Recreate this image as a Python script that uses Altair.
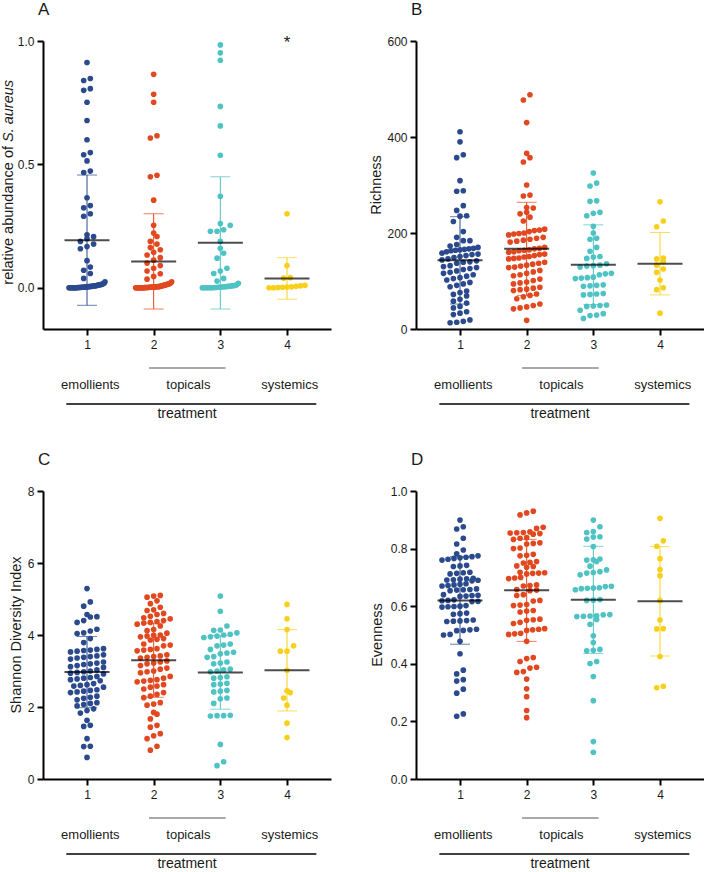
import altair as alt
import numpy as np
import pandas as pd

FONT = "Liberation Sans"
GROUPS = [1, 2, 3, 4]
GROUP_COLORS = ["#2b4a8e", "#e2481f", "#4fc2c3", "#f8d01c"]
CATEGORY_NAMES = ["emollients", "topicals", "systemics"]
CATEGORY_X = [1.05, 2.52, 4.04]

# ---------------- A: relative abundance of S. aureus ----------------
A_1 = [0.913, 0.848, 0.840, 0.807, 0.800, 0.752, 0.678, 0.600, 0.548, 0.539,
       0.514, 0.473, 0.467, 0.365, 0.333, 0.324, 0.300, 0.290, 0.215, 0.207,
       0.199, 0.188, 0.177, 0.167, 0.158, 0.110, 0.084, 0.071, 0.058, 0.038,
       0.024, 0.018, 0.016, 0.014, 0.013, 0.012, 0.011, 0.010, 0.009, 0.008,
       0.008, 0.007, 0.006, 0.006, 0.005, 0.005, 0.004, 0.004, 0.003, 0.003,
       0.002, 0.002, 0.002, 0.001, 0.001, 0.001, 0.0, 0.0, 0.0, 0.0,
       0.0, 0.0, 0.0, 0.0]
A_2 = [0.865, 0.784, 0.752, 0.616, 0.607, 0.456, 0.450, 0.355, 0.253, 0.222,
       0.208, 0.188, 0.177, 0.163, 0.154, 0.144, 0.133, 0.122, 0.112, 0.100,
       0.090, 0.079, 0.068, 0.057, 0.046, 0.035, 0.024, 0.020, 0.018, 0.016,
       0.015, 0.014, 0.013, 0.012, 0.011, 0.010, 0.009, 0.008, 0.007, 0.006,
       0.005, 0.005, 0.005, 0.004, 0.004, 0.004, 0.003, 0.003, 0.003, 0.002,
       0.002, 0.002, 0.002, 0.001, 0.001, 0.001, 0.001, 0.001, 0.0, 0.0,
       0.0, 0.0, 0.0, 0.0, 0.0, 0.0, 0.0, 0.0]
A_3 = [0.984, 0.952, 0.922, 0.735, 0.656, 0.537, 0.371, 0.260, 0.253, 0.235,
       0.229, 0.229, 0.188, 0.160, 0.140, 0.120, 0.079, 0.068, 0.058, 0.038,
       0.027, 0.018, 0.011, 0.009, 0.008, 0.007, 0.006, 0.005, 0.004, 0.003,
       0.003, 0.002, 0.001, 0.001, 0.0, 0.0, 0.0, 0.0, 0.0, 0.0]
A_4 = [0.300, 0.090, 0.041, 0.039, 0.010, 0.008, 0.006, 0.004, 0.003, 0.002,
       0.001, 0.0, 0.0]
A_MEAN = [0.193, 0.107, 0.182, 0.038]
A_SD = [0.264, 0.193, 0.268, 0.084]

# ---------------- B: Richness ----------------
B_1 = [411, 390, 363, 357, 309, 288, 287, 257, 247, 236, 235, 224, 203, 191,
       184, 184, 176, 173, 170, 168, 167, 166, 165, 164, 163, 161, 158, 156,
       155, 153, 151, 149, 146, 144, 142, 140, 139, 137, 132, 130, 128, 126,
       124, 121, 118, 116, 113, 110, 107, 105, 102, 97, 94, 91, 88, 79, 76,
       72, 69, 62, 58, 54, 47, 44, 36, 33, 30, 19, 16, 14, 13]
B_2 = [488, 477, 430, 366, 357, 348, 300, 279, 277, 253, 252, 243, 240, 233,
       225, 208, 206, 205, 203, 200, 199, 198, 196, 191, 189, 187, 185, 183,
       181, 170, 168, 167, 165, 164, 163, 161, 160, 156, 155, 153, 151, 150,
       148, 147, 146, 139, 137, 135, 133, 131, 129, 128, 122, 119, 116, 113,
       111, 104, 101, 98, 96, 94, 87, 85, 83, 82, 80, 73, 70, 67, 63, 52, 49,
       46, 44, 42, 18]
B_3 = [325, 304, 298, 267, 266, 243, 241, 236, 214, 200, 189, 187, 170, 162,
       151, 150, 147, 136, 133, 132, 131, 129, 116, 115, 113, 108, 107, 106,
       105, 92, 91, 90, 89, 74, 73, 72, 71, 50, 49, 48, 47, 39, 32, 29, 28, 22]
B_4 = [265, 225, 213, 148, 146, 140, 133, 125, 118, 102, 86, 82, 33]
B_MEAN = [143, 167, 134, 136]
B_SD = [91, 97, 83, 65]

# ---------------- C: Shannon Diversity Index ----------------
C_1 = [5.29, 4.92, 4.80, 4.57, 4.51, 4.50, 4.40, 4.35, 4.16, 4.11, 4.06, 4.04,
       3.90, 3.79, 3.62, 3.60, 3.58, 3.57, 3.55, 3.53, 3.45, 3.42, 3.40, 3.38,
       3.36, 3.33, 3.25, 3.22, 3.20, 3.18, 3.15, 3.12, 3.10, 3.03, 3.00, 2.98,
       2.96, 2.94, 2.92, 2.85, 2.82, 2.80, 2.78, 2.76, 2.73, 2.65, 2.62, 2.60,
       2.58, 2.55, 2.48, 2.46, 2.44, 2.42, 2.40, 2.30, 2.27, 2.24, 2.20, 2.12,
       2.10, 2.07, 2.03, 1.95, 1.90, 1.83, 1.63, 1.49, 1.46, 1.12, 0.91, 0.90,
       0.60]
C_2 = [5.10, 5.08, 5.05, 4.95, 4.87, 4.77, 4.70, 4.68, 4.60, 4.57, 4.52, 4.48,
       4.45, 4.40, 4.37, 4.35, 4.33, 4.30, 4.25, 4.15, 4.12, 4.05, 4.00, 3.99,
       3.97, 3.95, 3.90, 3.88, 3.86, 3.75, 3.72, 3.70, 3.62, 3.60, 3.58, 3.56,
       3.45, 3.42, 3.40, 3.38, 3.36, 3.28, 3.25, 3.22, 3.20, 3.15, 3.08, 3.05,
       3.00, 2.98, 2.95, 2.85, 2.80, 2.76, 2.74, 2.72, 2.70, 2.62, 2.58, 2.55,
       2.50, 2.40, 2.35, 2.30, 2.26, 2.12, 2.08, 2.05, 1.85, 1.80, 1.67, 1.49,
       1.44, 1.26, 1.20, 1.12, 0.91, 0.80]
C_3 = [5.08, 4.66, 4.25, 4.14, 4.13, 4.06, 4.02, 4.00, 3.97, 3.95, 3.93, 3.75,
       3.72, 3.70, 3.60, 3.52, 3.50, 3.48, 3.40, 3.38, 3.25, 3.22, 3.20, 3.05,
       3.03, 3.00, 2.98, 2.84, 2.82, 2.80, 2.66, 2.64, 2.62, 2.46, 2.44, 2.42,
       2.25, 2.23, 2.10, 1.77, 1.76, 1.76, 1.75, 0.96, 0.48, 0.37]
C_4 = [4.85, 4.45, 4.15, 3.70, 3.55, 3.55, 3.02, 2.45, 2.40, 2.25, 2.05, 1.55,
       1.15]
C_MEAN = [2.97, 3.30, 2.96, 3.02]
C_SD = [0.99, 1.03, 1.02, 1.13]

# ---------------- D: Evenness ----------------
D_1 = [0.899, 0.876, 0.868, 0.836, 0.816, 0.795, 0.782, 0.775, 0.772, 0.770,
       0.768, 0.766, 0.763, 0.760, 0.742, 0.740, 0.738, 0.718, 0.716, 0.714,
       0.712, 0.697, 0.695, 0.694, 0.692, 0.691, 0.690, 0.688, 0.678, 0.676,
       0.674, 0.672, 0.670, 0.660, 0.658, 0.657, 0.656, 0.654, 0.640, 0.638,
       0.637, 0.635, 0.634, 0.622, 0.620, 0.619, 0.617, 0.616, 0.602, 0.600,
       0.599, 0.598, 0.597, 0.576, 0.574, 0.572, 0.552, 0.550, 0.549, 0.548,
       0.547, 0.520, 0.518, 0.516, 0.515, 0.502, 0.500, 0.478, 0.435, 0.378,
       0.365, 0.345, 0.340, 0.312, 0.298, 0.226, 0.218]
D_2 = [0.930, 0.924, 0.917, 0.874, 0.870, 0.858, 0.856, 0.855, 0.854, 0.852,
       0.850, 0.838, 0.836, 0.832, 0.820, 0.818, 0.816, 0.802, 0.800, 0.780,
       0.777, 0.775, 0.755, 0.752, 0.750, 0.740, 0.738, 0.735, 0.718, 0.716,
       0.715, 0.714, 0.712, 0.700, 0.698, 0.696, 0.674, 0.672, 0.670, 0.658,
       0.656, 0.654, 0.640, 0.637, 0.620, 0.618, 0.606, 0.604, 0.602, 0.585,
       0.583, 0.580, 0.555, 0.553, 0.551, 0.544, 0.540, 0.522, 0.520, 0.518,
       0.516, 0.506, 0.504, 0.502, 0.478, 0.422, 0.418, 0.408, 0.388, 0.385,
       0.373, 0.370, 0.347, 0.313, 0.286, 0.238, 0.213]
D_3 = [0.899, 0.876, 0.859, 0.856, 0.841, 0.840, 0.833, 0.807, 0.764, 0.761,
       0.760, 0.755, 0.739, 0.726, 0.720, 0.717, 0.715, 0.709, 0.669, 0.668,
       0.664, 0.663, 0.662, 0.661, 0.657, 0.623, 0.621, 0.620, 0.571, 0.570,
       0.567, 0.566, 0.565, 0.564, 0.554, 0.537, 0.497, 0.474, 0.450, 0.447,
       0.445, 0.408, 0.401, 0.356, 0.272, 0.130, 0.093]
D_4 = [0.905, 0.827, 0.808, 0.765, 0.727, 0.706, 0.620, 0.552, 0.522, 0.521,
       0.425, 0.322, 0.317]
D_MEAN = [0.620, 0.655, 0.622, 0.617]
D_SD = [0.152, 0.177, 0.186, 0.190]

# ---------------- layout helpers ----------------
W, H = 288, 288
X_DOMAIN = [0.34, 4.66]
X_PX = W / (X_DOMAIN[1] - X_DOMAIN[0])   # pixels per x unit
ROW_PX = 6.0      # vertical height of one swarm row
DOT_STEP = 6.6    # horizontal distance between neighbouring dots
MAX_SPAN = 36.0   # widest a swarm row may spread (centre to centre)
INK = "#1a1a1a"

AXIS_STYLE = dict(
    domainColor="#000", domainWidth=2, tickColor="#000", tickWidth=2, tickSize=6,
    labelFont=FONT, labelFontSize=12, labelColor=INK, grid=False, title=None,
)


def swarm_offsets(values, y_px):
    """Prism-style scatter: dots of similar value share a row, side by side."""
    vals = np.asarray(values, dtype=float)
    order = np.argsort(vals, kind="stable")
    rows, cur, start = [], [], None
    for i in order:
        if cur and (vals[i] - start) * y_px >= ROW_PX:
            rows.append(cur)
            cur = []
        if not cur:
            start = vals[i]
        cur.append(i)
    if cur:
        rows.append(cur)
    off = np.zeros(len(vals))
    for row in rows:
        k = len(row)
        if k < 2:
            continue
        gap = min(DOT_STEP, MAX_SPAN / (k - 1))
        for j, i in enumerate(row):
            off[i] = (j - (k - 1) / 2) * gap / X_PX
    return off


def text_layer(text, x, y, **kw):
    return alt.Chart(pd.DataFrame({"t": [text]})).mark_text(font=FONT, **kw).encode(
        x=x, y=y, text="t:N")


def panel(series, means, sds, ydom, yvals, yfmt, letter, title_layers, star=False):
    y_px = H / (ydom[1] - ydom[0])
    recs = []
    for g, vals in zip(GROUPS, series):
        for v, o in zip(vals, swarm_offsets(vals, y_px)):
            recs.append({"group": g, "value": v, "xpos": g + o})
    pts = pd.DataFrame(recs)
    stats = pd.DataFrame({
        "group": GROUPS,
        "mean": means,
        "lo": [m - s for m, s in zip(means, sds)],
        "hi": [m + s for m, s in zip(means, sds)],
    })

    xs = alt.Scale(domain=X_DOMAIN, nice=False, zero=False)
    ys = alt.Scale(domain=ydom, nice=False, zero=False)
    # every layer carries the same axis definition so the shared axes merge cleanly
    x_axis = alt.Axis(values=GROUPS, format="d", labelPadding=4, **AXIS_STYLE)
    y_axis = alt.Axis(values=yvals, format=yfmt, labelPadding=3, **AXIS_STYLE)

    def X(field):
        return alt.X(field, scale=xs, axis=x_axis, title=None)

    def Y(field):
        return alt.Y(field, scale=ys, axis=y_axis, title=None)

    col = alt.Color("group:N", scale=alt.Scale(domain=GROUPS, range=GROUP_COLORS), legend=None)

    dots = alt.Chart(pts).mark_circle(size=32, opacity=1).encode(
        x=X("xpos:Q"), y=Y("value:Q"), color=col)
    sb = alt.Chart(stats)
    whisker = sb.mark_rule(strokeWidth=1).encode(
        x=X("group:Q"), y=Y("lo:Q"), y2="hi:Q", color=col)
    cap_lo = sb.mark_tick(orient="horizontal", size=20, thickness=1).encode(
        x=X("group:Q"), y=Y("lo:Q"), color=col)
    cap_hi = sb.mark_tick(orient="horizontal", size=20, thickness=1).encode(
        x=X("group:Q"), y=Y("hi:Q"), color=col)
    mean_bar = sb.mark_tick(orient="horizontal", size=45, thickness=2, color="#000").encode(
        x=X("group:Q"), y=Y("mean:Q"))

    # treatment grouping under the x axis
    cats = alt.Chart(pd.DataFrame({"x": CATEGORY_X, "t": CATEGORY_NAMES})).mark_text(
        font=FONT, fontSize=13, color=INK, baseline="middle").encode(
        x=X("x:Q"), y=alt.value(H + 56), text="t:N")
    short_rule = alt.Chart(pd.DataFrame({"a": [1.93], "b": [3.08]})).mark_rule(
        strokeWidth=1, color="#555").encode(
        x=X("a:Q"), x2="b:Q", y=alt.value(H + 39))
    long_rule = alt.Chart(pd.DataFrame({"a": [0.69], "b": [4.44]})).mark_rule(
        strokeWidth=1.5, color="#000").encode(
        x=X("a:Q"), x2="b:Q", y=alt.value(H + 75))
    treat = alt.Chart(pd.DataFrame({"x": [2.5], "t": ["treatment"]})).mark_text(
        font=FONT, fontSize=14, color=INK, baseline="middle").encode(
        x=X("x:Q"), y=alt.value(H + 85), text="t:N")
    tag = text_layer(letter, alt.value(-5), alt.value(-31), fontSize=17, align="left",
                     baseline="middle", color=INK)

    layers = [dots, whisker, cap_lo, cap_hi, mean_bar, cats, short_rule, long_rule,
              treat, tag] + title_layers
    if star:
        layers.append(
            alt.Chart(pd.DataFrame({"x": [4], "y": [1.0], "t": ["*"]})).mark_text(
                font=FONT, fontSize=17, baseline="top", dy=-6, color=INK).encode(
                x=X("x:Q"), y=Y("y:Q"), text="t:N"))
    return alt.layer(*layers).properties(width=W, height=H)


def y_title(text, x):
    return [text_layer(text, alt.value(x), alt.value(H / 2), fontSize=14.5, angle=270,
                       align="center", baseline="middle", color=INK)]


title_a = [
    text_layer("relative abundance of", alt.value(-34), alt.value(105), fontSize=14.5,
               angle=270, align="right", baseline="middle", color=INK),
    text_layer("S. aureus", alt.value(-34), alt.value(101), fontSize=14.5, angle=270,
               align="left", baseline="middle", fontStyle="italic", color=INK),
]

pA = panel([A_1, A_2, A_3, A_4], A_MEAN, A_SD, [-0.167, 1.0], [0, 0.5, 1.0], ".1f",
           "A", title_a, star=True)
pB = panel([B_1, B_2, B_3, B_4], B_MEAN, B_SD, [0, 600], [0, 200, 400, 600], "d",
           "B", y_title("Richness", -39))
pC = panel([C_1, C_2, C_3, C_4], C_MEAN, C_SD, [0, 8], [0, 2, 4, 6, 8], "d",
           "C", y_title("Shannon Diversity Index", -26))
pD = panel([D_1, D_2, D_3, D_4], D_MEAN, D_SD, [0, 1.0], [0, 0.2, 0.4, 0.6, 0.8, 1.0],
           ".1f", "D", y_title("Evenness", -38))

chart = alt.concat(
    pA, pB, pC, pD, columns=2, spacing={"row": 162, "column": 85}, bounds="flush"
).properties(
    padding={"left": 1, "top": 1, "right": 0, "bottom": 0}
).configure_view(stroke=None)

chart.save("out.html", embed_options={"renderer": "svg", "actions": False})
